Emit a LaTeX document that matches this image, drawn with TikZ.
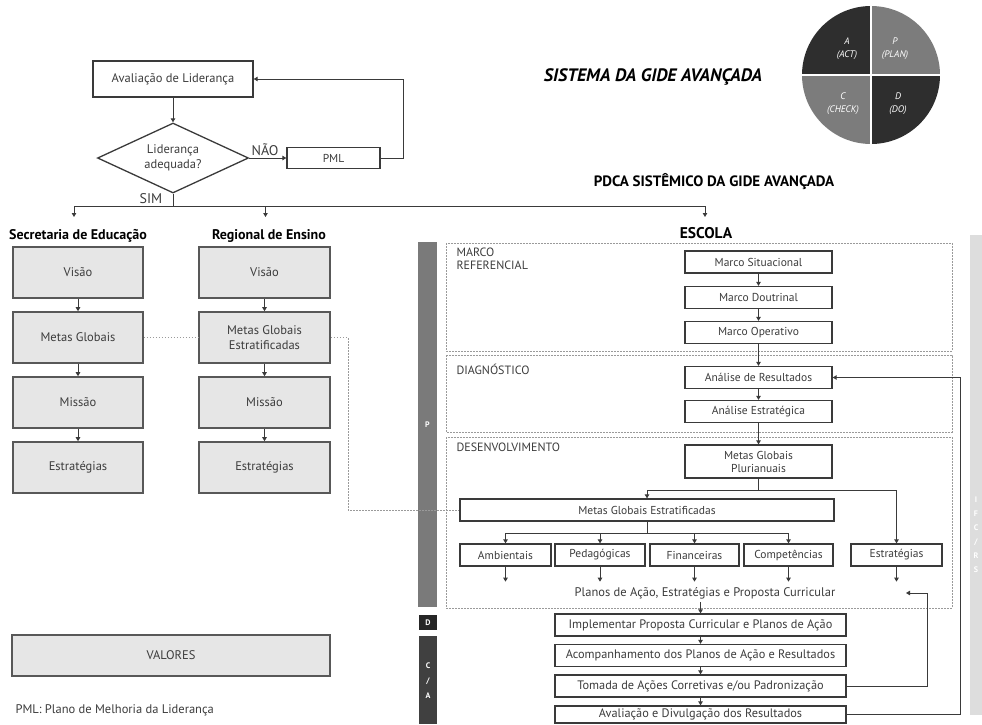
\documentclass[tikz,border=0pt]{standalone}
\usepackage{fontspec}
\setmainfont{PT Sans}
\usetikzlibrary{arrows.meta,shapes.geometric,calc}

\definecolor{edgegray}{HTML}{3A3A3A}
\definecolor{boxfill}{HTML}{E6E6E6}
\definecolor{dotgray}{HTML}{9A9A9A}
\definecolor{txtgray}{HTML}{3C3C3C}
\definecolor{quaddark}{HTML}{2E2E2E}
\definecolor{quadmid}{HTML}{7C7C7C}
\definecolor{pbar}{HTML}{7A7A7A}
\definecolor{cabar}{HTML}{404040}
\definecolor{sidebar}{HTML}{DDDDDD}

\newcommand{\boxfont}{\fontsize{11.5}{13}\selectfont}
\newcommand{\bigboxfont}{\fontsize{12.5}{14.5}\selectfont}

\tikzset{
  wbox/.style={draw=edgegray, line width=1.3pt, fill=white, minimum height=22pt,
    inner sep=0pt, align=center, font=\boxfont, text=txtgray},
  gbox/.style={draw=edgegray!85, line width=1.6pt, fill=boxfill, minimum width=130pt,
    minimum height=51pt, inner sep=0pt, align=center, font=\bigboxfont, text=txtgray},
  lowbox/.style={wbox, minimum width=291pt, font=\fontsize{12.3}{13}\selectfont},
  conn/.style={draw=edgegray, line width=0.9pt, -{Triangle[length=4pt,width=4.5pt]}},
  plain/.style={draw=edgegray, line width=0.9pt},
  dots/.style={draw=dotgray, line width=1pt, dash pattern=on 1.6pt off 1.4pt},
  head/.style={font=\fontsize{14}{16}\selectfont\bfseries, text=black},
  zone/.style={anchor=north west, align=left, font=\fontsize{12}{13.5}\selectfont, text=txtgray},
  bartxt/.style={font=\fontsize{8}{15}\selectfont\bfseries, text=white, align=center},
  quadtxt/.style={font=\fontsize{9.5}{13}\selectfont\itshape, text=white, align=center},
}

\begin{document}
\begin{tikzpicture}[x=1pt,y=-1pt]
\useasboundingbox (0,0) rectangle (982,724);

% --- lideranca
\node[wbox, minimum width=160pt, minimum height=36pt, font=\bigboxfont] (aval) at (173,79) {Avaliação de Liderança};
\node[draw=edgegray, line width=1.3pt, diamond, aspect=2.16, minimum width=151pt, minimum height=70pt,
  inner sep=0pt, align=center, font=\bigboxfont, text=txtgray] (dec) at (173,158) {Liderança\\adequada?};
\node[wbox, minimum width=93pt, minimum height=21pt] (pml) at (333.5,158) {PML};
\node[font=\fontsize{14}{16}\selectfont, text=txtgray] (nao) at (265,150) {NÃO};
\node[font=\fontsize{14}{16}\selectfont, text=txtgray] (sim) at (151,199) {SIM};
\coordinate (loop) at (403,79);
\coordinate (simj) at (173,206.5);
\coordinate (secin) at (74,217);
\coordinate (regin) at (265.5,217);
\coordinate (escin) at (705,217);
\draw[conn] (aval) -- (dec);
\draw[conn] (dec) -- (pml);
\draw[conn] (pml.east) -| (loop) -- (aval.east);
\draw[plain] (dec.south) -- (simj);
\draw[conn] (simj) -| (secin);
\draw[conn] (simj) -| (regin);
\draw[conn] (simj) -| (escin);

% --- secretaria / regional
\node[head] (sectit) at (78,236) {Secretaria de Educação};
\node[head] (regtit) at (269,236) {Regional de Ensino};
\foreach \txt [count=\i] in {Visão,Metas Globais,Missão,Estratégias}
  \node[gbox] (s\i) at (78,{207.5+65*\i}) {\txt};
\foreach \txt [count=\i] in {Visão,{Metas Globais\\Estratificadas},Missão,Estratégias}
  \node[gbox, minimum width=131pt] (r\i) at (264.5,{207.5+65*\i}) {\txt};
\foreach \i/\j in {1/2,2/3,3/4}{
  \draw[conn] (s\i) -- (s\j);
  \draw[conn] (r\i) -- (r\j);
}
\node[gbox, minimum width=318pt, minimum height=41pt] (valo) at (171,655.5) {VALORES};
\node[anchor=west, font=\fontsize{12.5}{14}\selectfont, text=txtgray] (legd) at (12,710) {PML: Plano de Melhoria da Liderança};

% --- pdca
\node[font=\fontsize{18}{20}\selectfont\bfseries\itshape] (gide) at (653,77) {SISTEMA DA GIDE AVANÇADA};
\coordinate (cc) at (871,75);
\fill[quaddark] (cc) -- +(180:69) arc[start angle=180,end angle=270,radius=69] -- cycle;
\fill[quadmid] (cc) -- +(270:69) arc[start angle=270,end angle=360,radius=69] -- cycle;
\fill[quaddark] (cc) -- +(0:69) arc[start angle=0,end angle=90,radius=69] -- cycle;
\fill[quadmid] (cc) -- +(90:69) arc[start angle=90,end angle=180,radius=69] -- cycle;
\draw[white, line width=2.5pt] ($(cc)+(-70,0)$) -- ($(cc)+(70,0)$);
\draw[white, line width=2.5pt] ($(cc)+(0,-70)$) -- ($(cc)+(0,70)$);
\node[quadtxt] (qa) at (847,49) {A\\(ACT)};
\node[quadtxt] (qp) at (895,49) {P\\(PLAN)};
\node[quadtxt] (qc) at (843,104) {C\\(CHECK)};
\node[quadtxt] (qd) at (898,104) {D\\(DO)};
\node[font=\fontsize{15}{17}\selectfont\bfseries] (pdca) at (714,182) {PDCA SISTÊMICO DA GIDE AVANÇADA};

% --- escola
\node[head, font=\fontsize{15.5}{17}\selectfont\bfseries] (esctit) at (706,233) {ESCOLA};
\fill[pbar] (418,242) rectangle (437,607);
\node[bartxt] (lp) at (427.5,425) {P};
\fill[black!85] (419,615) rectangle (437,630);
\node[bartxt] (ld) at (428,622.5) {D};
\fill[cabar] (419,636) rectangle (437,724);
\node[bartxt] (lca) at (428,681) {C\\/\\A};
\fill[sidebar] (970,235) rectangle (982,715);
\node[font=\fontsize{8}{14}\selectfont\bfseries, text=white, align=center] (lifc) at (976,535) {I\\F\\C\\/\\R\\S};

\draw[dots] (446,243) rectangle (952,351);
\draw[dots] (446,355) rectangle (952,432);
\draw[dots] (446,437) rectangle (952,608);
\node[zone] (zmarco) at (453,244) {MARCO\\REFERENCIAL};
\node[zone] (zdiag) at (453,361) {DIAGNÓSTICO};
\node[zone] (zdes) at (453,439) {DESENVOLVIMENTO};

\node[wbox, minimum width=147pt] (msit) at (758.5,262) {Marco Situacional};
\node[wbox, minimum width=147pt] (mdou) at (758.5,297.5) {Marco Doutrinal};
\node[wbox, minimum width=147pt] (mope) at (758.5,332.5) {Marco Operativo};
\node[wbox, minimum width=147pt] (ares) at (758.5,377.5) {Análise de Resultados};
\node[wbox, minimum width=147pt] (aest) at (758.5,411.5) {Análise Estratégica};
\node[wbox, minimum width=147pt, minimum height=33pt] (mplu) at (758.5,461.5) {Metas Globais\\Plurianuais};
\foreach \a/\b in {msit/mdou,mdou/mope,mope/ares,ares/aest,aest/mplu}
  \draw[conn] (\a) -- (\b);

\node[wbox, minimum width=374pt] (mge) at (647,510) {Metas Globais Estratificadas};
\node[wbox, minimum width=91pt] (amb) at (505.5,555) {Ambientais};
\node[wbox, minimum width=90pt] (ped) at (600,555) {Pedagógicas};
\node[wbox, minimum width=89pt] (fin) at (694.5,555) {Financeiras};
\node[wbox, minimum width=89pt] (comp) at (788.5,555) {Competências};
\node[wbox, minimum width=91pt] (estr) at (896.5,555) {Estratégias};
\coordinate (pj) at (758.5,490);
\coordinate (wj) at (647,533);
\draw[plain] (mplu) -- (pj);
\draw[conn] (pj) -| (mge.north);
\draw[conn] (pj) -| (estr.north);
\draw[plain] (mge) -- (wj);
\foreach \b in {amb,ped,fin,comp}
  \draw[conn] (wj) -| (\b.north);
\foreach \b in {amb,ped,fin,comp,estr}{
  \coordinate (\b-o) at ($(\b.south)+(0,15)$);
  \draw[conn] (\b.south) -- (\b-o);
}
\node[font=\fontsize{12.5}{14}\selectfont, text=txtgray] (plan) at (705,593) {Planos de Ação, Estratégias e Proposta Curricular};

\node[lowbox] (impl) at (700.5,625) {Implementar Proposta Curricular e Planos de Ação};
\node[lowbox] (acom) at (700.5,655.5) {Acompanhamento dos Planos de Ação e Resultados};
\node[lowbox] (toma) at (700.5,686) {Tomada de Ações Corretivas e/ou Padronização};
\node[lowbox, minimum height=17pt] (avdv) at (700.5,714.5) {Avaliação e Divulgação dos Resultados};
\draw[conn] (plan.south -| impl.north) -- (impl.north);
\foreach \a/\b in {impl/acom,acom/toma,toma/avdv}
  \draw[conn] (\a) -- (\b);

% --- retornos
\coordinate (fb1) at (927,593);
\coordinate (fb1e) at (906,593);
\draw[conn] (toma.east) -| (fb1) -- (fb1e);
\coordinate (fb2) at (960,377.5);
\draw[conn] (avdv.east) -| (fb2) -- (ares.east);

% --- ligacoes pontilhadas
\coordinate (dk1) at (348,337.5);
\coordinate (dk2) at (348,510);
\draw[dots] (s2) -- (r2);
\draw[dots] (r2.east) -- (dk1) -- (dk2) -- (mge.west);
\end{tikzpicture}
\end{document}
